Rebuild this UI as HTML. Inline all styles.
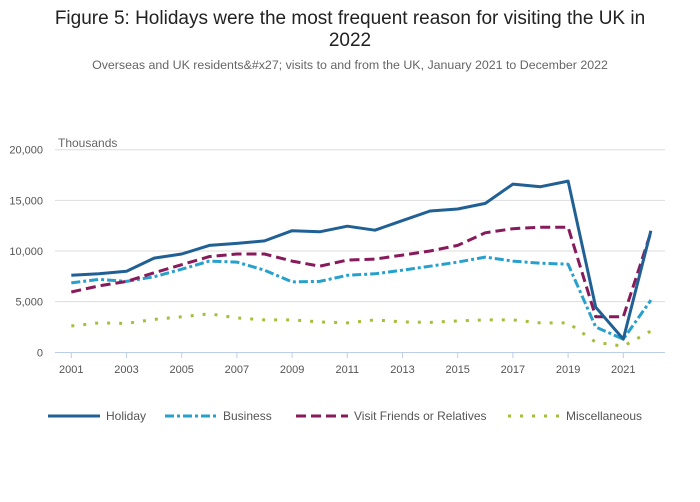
<!DOCTYPE html>
<html><head><meta charset="utf-8"><style>
body{margin:0;background:#fff;font-family:"Liberation Sans",sans-serif;}
#wrap{position:relative;width:700px;height:502px;overflow:hidden;}
</style></head><body>
<div id="wrap">
<svg id="chart" width="700" height="502">
<text x="350" y="24" text-anchor="middle" font-size="19" fill="#222">Figure 5: Holidays were the most frequent reason for visiting the UK in</text>
<text x="350" y="46" text-anchor="middle" font-size="19" fill="#222">2022</text>
<text x="350" y="69" text-anchor="middle" font-size="12.4" fill="#666">Overseas and UK residents&amp;#x27; visits to and from the UK, January 2021 to December 2022</text>
<text x="58" y="147" font-size="12" fill="#666">Thousands</text>
<g id="grid"></g><g id="series"></g><g id="legend"></g>
</svg></div>
<script>
const years=[2001,2002,2003,2004,2005,2006,2007,2008,2009,2010,2011,2012,2013,2014,2015,2016,2017,2018,2019,2020,2021,2022];
const holiday=[7600,7750,8000,9300,9700,10550,10750,11000,12000,11900,12450,12050,13000,13950,14150,14700,16600,16350,16900,4450,1300,12000];
const business=[6850,7200,7000,7450,8200,9000,8900,8100,6950,7000,7600,7750,8100,8500,8900,9400,9000,8800,8700,2500,1300,5150];
const vfr=[5950,6550,7000,7850,8650,9450,9700,9700,9000,8500,9100,9200,9600,10000,10550,11800,12200,12350,12350,3500,3500,11850];
const misc=[2600,2900,2850,3250,3500,3800,3400,3200,3200,3000,2900,3200,3000,2950,3100,3200,3200,2900,2900,1000,600,2100];
const yTicks=[0,5000,10000,15000,20000];
const yTickLabels=["0","5,000","10,000","15,000","20,000"];
const xTickYears=[2001,2003,2005,2007,2009,2011,2013,2015,2017,2019,2021];
const seriesNames=["Holiday","Business","Visit Friends or Relatives","Miscellaneous"];
const NS="http://www.w3.org/2000/svg";
const x=v=>71.3+(v-2001)*27.6;
const y=v=>352.3-v*(202.6/20000);
function mk(tag,attrs,parent){const e=document.createElementNS(NS,tag);for(const k in attrs)e.setAttribute(k,attrs[k]);parent.appendChild(e);return e;}
const grid=document.getElementById('grid');
yTicks.forEach((t,i)=>{
 if(t>0){const l=mk('line',{x1:55,x2:665,y1:y(t),y2:y(t),stroke:'#ddd','stroke-width':1},grid);
 
 }
 const tx=mk('text',{x:43,y:y(t)+4,'text-anchor':'end','font-size':11,fill:'#555'},grid);tx.textContent=yTickLabels[i];
 
 
});
const ax=mk('line',{x1:55,x2:665,y1:352.5,y2:352.5,stroke:'#bccde6','stroke-width':1},grid);


xTickYears.forEach(yr=>{
 const tk=mk('line',{x1:x(yr),x2:x(yr),y1:352,y2:358,stroke:'#bccde6'},grid);
 
 
 const tx=mk('text',{x:x(yr),y:373,'text-anchor':'middle','font-size':11,fill:'#555'},grid);tx.textContent=yr;
 
 
});
const styles=[
 {c:'#206095',d:'',w:3},
 {c:'#27a0cc',d:'9,3,3,3',w:3},
 {c:'#871a5b',d:'10,5',w:3},
 {c:'#a8bd3a',d:'3,9',w:3}];
const data=[holiday,business,vfr,misc];
const names=['holiday-line','business-line','vfr-line','miscellaneous-line'];
const sg=document.getElementById('series');
[3,1,2,0].forEach(i=>{
 const pts=data[i].map((v,j)=>x(years[j]).toFixed(1)+','+y(v).toFixed(1)).join(' ');
 const p=mk('polyline',{points:pts,fill:'none',stroke:styles[i].c,'stroke-width':styles[i].w,'stroke-dasharray':styles[i].d,'stroke-linejoin':'round'},sg);
 
 
});
const lg=document.getElementById('legend');
const lx=[48,165,296,508];
seriesNames.forEach((n,i)=>{
 const l=mk('line',{x1:lx[i],x2:lx[i]+52,y1:416,y2:416,stroke:styles[i].c,'stroke-width':3,'stroke-dasharray':styles[i].d},lg);
 
 
 const t=mk('text',{x:lx[i]+58,y:420,'font-size':12,fill:'#555'},lg);t.textContent=n;
 
 
});
</script>
</body></html>
